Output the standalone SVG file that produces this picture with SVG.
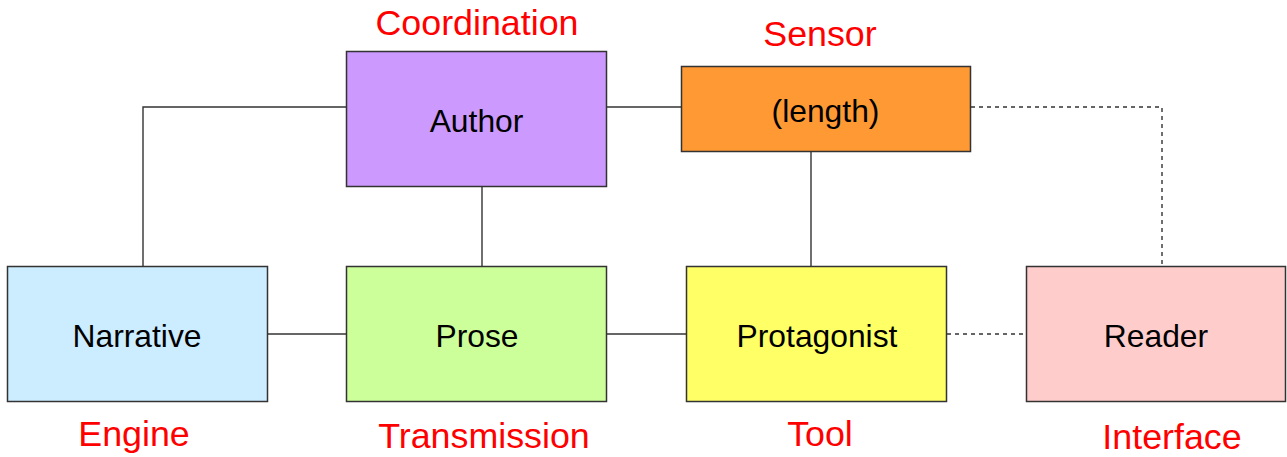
<svg xmlns="http://www.w3.org/2000/svg" width="1287" height="457" viewBox="0 0 1287 457">
<style>
.box{stroke:#333;stroke-width:1.5}
.t{font-family:"Liberation Sans",Arial,sans-serif;font-size:31.8px;fill:#000;text-anchor:middle}
.r{font-family:"Liberation Sans",Arial,sans-serif;font-size:35.8px;fill:#f00;text-anchor:middle}
.c{fill:none;stroke:#333;stroke-width:1.4}
.d{stroke-dasharray:4 4}
</style>
<rect width="1287" height="457" fill="#fff"/>
<g id="connectors">
<polyline class="c" points="346,107 143,107 143,266"/>
<line class="c" x1="606" y1="107" x2="681" y2="107"/>
<line class="c" x1="482" y1="187" x2="482" y2="266"/>
<line class="c" x1="811" y1="152" x2="811" y2="266"/>
<line class="c" x1="267" y1="334" x2="346" y2="334"/>
<line class="c" x1="607" y1="334" x2="686" y2="334"/>
<line class="c d" x1="947" y1="334" x2="1026" y2="334"/>
<polyline class="c d" points="971,107 1162,107 1162,266"/>
</g>
<g id="author">
<rect class="box" x="346.5" y="51.5" width="260" height="135" fill="#CC99FF"/>
<text class="t" x="476.5" y="132">Author</text>
<text class="r" x="477" y="35">Coordination</text>
</g>
<g id="sensor">
<rect class="box" x="681.5" y="66.5" width="289" height="85" fill="#FF9933"/>
<text class="t" x="825.5" y="122">(length)</text>
<text class="r" x="820" y="46">Sensor</text>
</g>
<g id="narrative">
<rect class="box" x="7.5" y="266.5" width="260" height="135" fill="#CCECFF"/>
<text class="t" x="137" y="347">Narrative</text>
<text class="r" x="134" y="446">Engine</text>
</g>
<g id="prose">
<rect class="box" x="346.5" y="266.5" width="260" height="135" fill="#CCFF99"/>
<text class="t" x="477" y="347">Prose</text>
<text class="r" x="484" y="448">Transmission</text>
</g>
<g id="protagonist">
<rect class="box" x="686.5" y="266.5" width="260" height="135" fill="#FFFF66"/>
<text class="t" x="817" y="347">Protagonist</text>
<text class="r" x="820" y="446">Tool</text>
</g>
<g id="reader">
<rect class="box" x="1026.5" y="266.5" width="259" height="135" fill="#FFCCCC"/>
<text class="t" x="1156" y="347">Reader</text>
<text class="r" x="1172" y="449">Interface</text>
</g>
</svg>
